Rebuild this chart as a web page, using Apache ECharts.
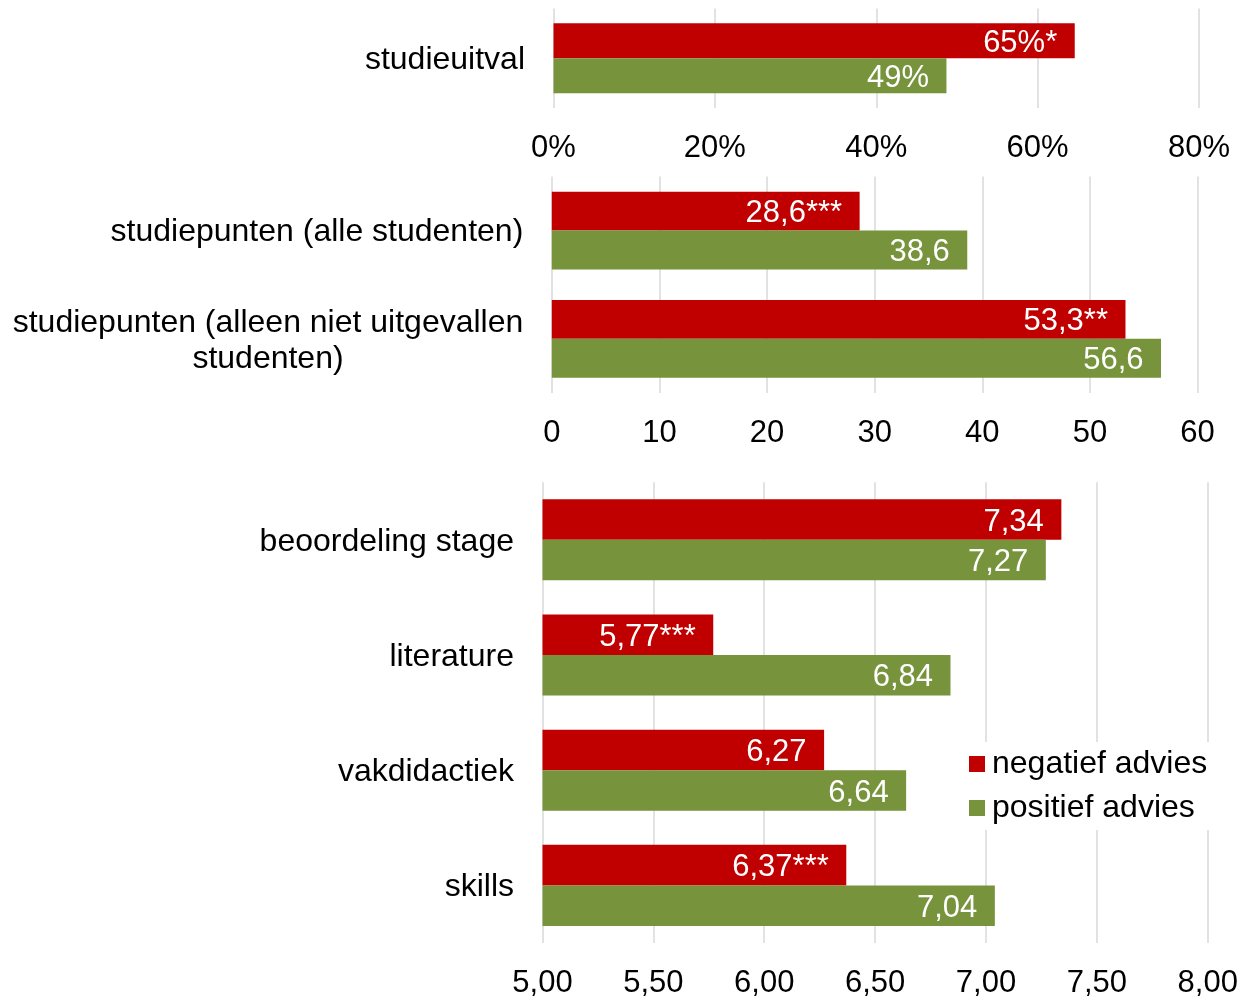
<!DOCTYPE html>
<html><head><meta charset="utf-8">
<script src="https://cdn.jsdelivr.net/npm/echarts@6/dist/echarts.min.js"></script>
<style>html,body{margin:0;padding:0;background:#fff}#c{width:1242px;height:999px}</style>
</head><body><div id="c"></div>
<script>
// ---- data ----
const seriesNames = ['negatief advies', 'positief advies'];

const cats1 = ['studieuitval'];
const neg1 = [64.6];
const pos1 = [48.7];
const sig1 = ['*'];
const ticks1 = [0, 20, 40, 60, 80];

const cats2 = ['studiepunten (alle studenten)', 'studiepunten (alleen niet uitgevallen\nstudenten)'];
const neg2 = [28.6, 53.3];
const pos2 = [38.6, 56.6];
const sig2 = ['***', '**'];
const ticks2 = [0, 10, 20, 30, 40, 50, 60];

const cats3 = ['beoordeling stage', 'literature', 'vakdidactiek', 'skills'];
const neg3 = [7.34, 5.77, 6.27, 6.37];
const pos3 = [7.27, 6.84, 6.64, 7.04];
const sig3 = ['', '***', '', '***'];
const ticks3 = [5.00, 5.50, 6.00, 6.50, 7.00, 7.50, 8.00];

// ---- styles ----
const COLORS = ['#C00000', '#77933C'];
const FONT = '"Liberation Sans", Arial, sans-serif';
const FS = 31;      // ticks & data labels
const FS_CAT = 32;  // category labels & legend

const panels = [
  { cats: cats1, neg: neg1, pos: pos1, sig: sig1, ticks: ticks1,
    fmt: v => Math.round(v) + '%', tick: v => v + '%',
    grid: { left: 553.5, right: 43, top: 8.6, height: 99.4 }, gap: '29.6%' },
  { cats: cats2, neg: neg2, pos: pos2, sig: sig2, ticks: ticks2,
    fmt: v => v.toFixed(1).replace('.', ','), tick: v => String(v),
    grid: { left: 551.8, right: 44.4, top: 176.4, height: 216.6 }, gap: '28.3%' },
  { cats: cats3, neg: neg3, pos: pos3, sig: sig3, ticks: ticks3,
    fmt: v => v.toFixed(2).replace('.', ','), tick: v => Number(v).toFixed(2).replace('.', ','),
    grid: { left: 542.5, right: 34.3, top: 482.2, height: 462.6 }, gap: '29.6%' }
];

const grids = [], xAxes = [], yAxes = [], series = [];
panels.forEach((p, i) => {
  grids.push(p.grid);
  const interval = p.ticks[1] - p.ticks[0];
  xAxes.push({
    type: 'value', gridIndex: i, position: 'bottom',
    min: p.ticks[0], max: p.ticks[p.ticks.length - 1], interval: interval,
    axisLine: { show: false }, axisTick: { show: false },
    splitLine: { show: true, lineStyle: { color: '#D9D9D9', width: 1.5 } },
    axisLabel: { color: '#000', fontSize: FS, fontFamily: FONT, margin: 25,
      formatter: v => p.tick(v) }
  });
  yAxes.push({
    type: 'category', gridIndex: i, inverse: true, data: p.cats,
    axisLine: { show: false }, axisTick: { show: false },
    axisLabel: { color: '#000', fontSize: FS_CAT, fontFamily: FONT, margin: 28.5, align: 'right',
      padding: [4, 0, 0, 0],
      formatter: v => v.split('\n').map(s => '{c|' + s + '}').join('\n'),
      rich: { c: { align: 'center', fontSize: FS_CAT, fontFamily: FONT, color: '#000', lineHeight: 36 } } }
  });
  [p.neg, p.pos].forEach((vals, k) => {
    series.push({
      type: 'bar', name: seriesNames[k], xAxisIndex: i, yAxisIndex: i,
      data: vals, barGap: '0%', barCategoryGap: p.gap,
      itemStyle: { color: COLORS[k] },
      label: { show: true, position: 'insideRight', distance: 17.5, offset: [0, 2.5], color: '#fff',
        fontSize: FS, fontFamily: FONT,
        formatter: d => p.fmt(d.value) + (k === 0 ? p.sig[d.dataIndex] : '') }
    });
  });
});

const chart = echarts.init(document.getElementById('c'), null, { renderer: 'canvas' });
chart.setOption({
  animation: false,
  backgroundColor: '#fff',
  grid: grids, xAxis: xAxes, yAxis: yAxes, series: series,
  legend: {
    data: seriesNames, orient: 'vertical', left: 963, top: 742,
    itemWidth: 16, itemHeight: 16, itemGap: 12, padding: 6,
    backgroundColor: '#fff', icon: 'rect', selectedMode: false,
    textStyle: { fontSize: FS_CAT, fontFamily: FONT, color: '#000', padding: [0, 0, 0, 2] }
  }
});
</script></body></html>
